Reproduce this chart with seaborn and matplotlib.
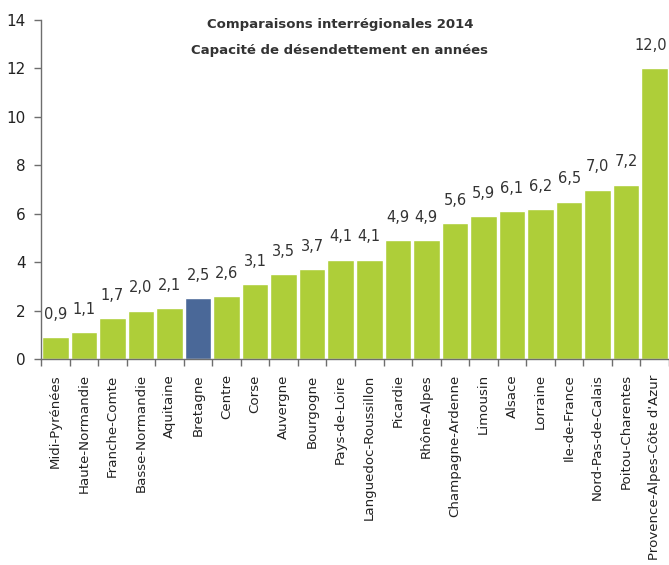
import matplotlib
matplotlib.use("Agg")
import matplotlib.pyplot as plt
import seaborn as sns
import numpy as np
import pandas as pd

# données
regions = ["Midi-Pyrénées", "Haute-Normandie", "Franche-Comte", "Basse-Normandie",
           "Aquitaine", "Bretagne", "Centre", "Corse", "Auvergne", "Bourgogne",
           "Pays-de-Loire", "Languedoc-Roussillon", "Picardie", "Rhône-Alpes",
           "Champagne-Ardenne", "Limousin", "Alsace", "Lorraine", "Ile-de-France",
           "Nord-Pas-de-Calais", "Poitou-Charentes", "Provence-Alpes-Côte d'Azur"]
valeurs = [0.9, 1.1, 1.7, 2.0, 2.1, 2.5, 2.6, 3.1, 3.5, 3.7, 4.1, 4.1,
           4.9, 4.9, 5.6, 5.9, 6.1, 6.2, 6.5, 7.0, 7.2, 12.0]
highlight = "Bretagne"

green = "#AECE39"
blue = "#4A6898"
grey = "#6e6e6e"

sns.set_style("white")
plt.rcParams['font.family'] = ['DejaVu Sans']

df = pd.DataFrame({"Region": regions, "Valeur": valeurs})
palette = {r: (blue if r == highlight else green) for r in regions}

fig = plt.figure(figsize=(6.69, 5.65), dpi=100)
ax = fig.add_axes([0.0613, 0.3646, 0.9387, 0.6])

sns.barplot(data=df, x="Region", y="Valeur", hue="Region", palette=palette,
            legend=False, width=0.93, saturation=1, ax=ax)

# étiquettes de valeurs
annots = []
for c in ax.containers:
    labs = [f"{v:.1f}".replace(".", ",") for v in c.datavalues]
    annots += ax.bar_label(c, labels=labs, padding=11, fontsize=10.5, color="#333333")

# la dernière étiquette touche le bord droit : on la cale à droite
last = max(annots, key=lambda a: a.xy[0])
last.set_horizontalalignment("right")
last.xyann = (9, 11)

ax.set_ylim(0, 14)
ax.set_xlim(-0.5, len(regions) - 0.5)
ax.set_yticks(np.arange(0, 15, 2))
ax.set_xlabel("")
ax.set_ylabel("")

# graduations entre les barres
ax.set_xticks(np.arange(len(regions)))
ax.set_xticklabels(regions, rotation=90, fontsize=9.6, color="#222222")
ax.set_xticks(np.arange(-0.5, len(regions), 1), minor=True)
ax.tick_params(axis="x", which="major", length=0, pad=11)
ax.tick_params(axis="x", which="minor", length=5, width=1, color=grey, direction="out")
ax.tick_params(axis="y", length=5, width=1, color=grey, direction="out",
               labelsize=11, labelcolor="#222222", pad=6)
ax.yaxis.set_ticks_position("left")
ax.xaxis.set_ticks_position("bottom")

for s in ["top", "right"]:
    ax.spines[s].set_visible(False)
for s in ["left", "bottom"]:
    ax.spines[s].set_color(grey)
    ax.spines[s].set_linewidth(1)

fig.text(0.508, 0.956, "Comparaisons interrégionales 2014", ha="center", va="center",
         fontsize=9.5, fontweight="bold", color="#333333")
fig.text(0.508, 0.9115, "Capacité de désendettement en années", ha="center", va="center",
         fontsize=9.5, fontweight="bold", color="#333333")

plt.savefig("out.png", dpi=100)
